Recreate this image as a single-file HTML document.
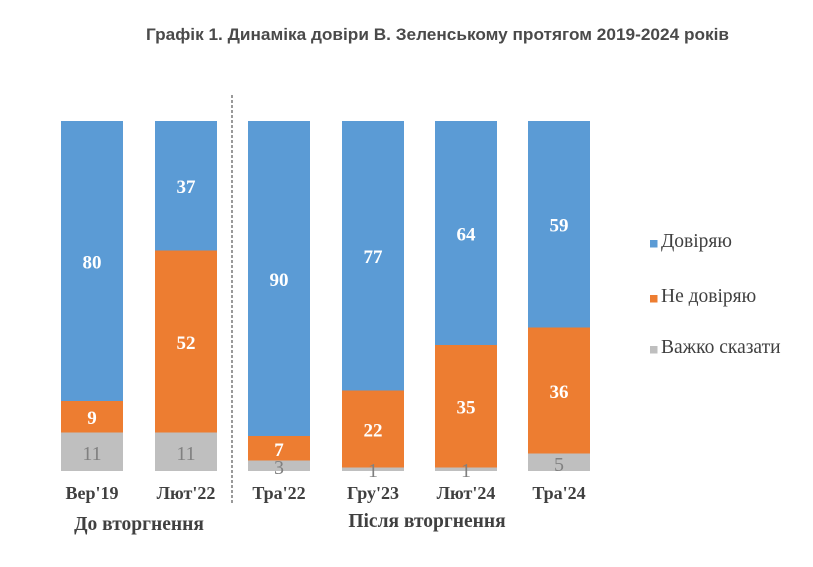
<!DOCTYPE html>
<html>
<head>
<meta charset="utf-8">
<style>
html,body{margin:0;padding:0;background:#fff;}
svg{display:block;}
.t{font-family:"Liberation Sans",Arial,sans-serif;font-weight:bold;font-size:17px;fill:#4a4a4a;}
.v{font-family:"Liberation Serif","Times New Roman",serif;font-weight:bold;font-size:19px;fill:#fff;text-anchor:middle;}
.g{font-family:"Liberation Serif","Times New Roman",serif;font-size:20px;fill:#808080;text-anchor:middle;}
.c{font-family:"Liberation Serif","Times New Roman",serif;font-weight:bold;font-size:18px;fill:#404040;text-anchor:middle;}
.gr{font-family:"Liberation Serif","Times New Roman",serif;font-weight:bold;font-size:19.5px;fill:#404040;text-anchor:middle;}
.l{font-family:"Liberation Serif","Times New Roman",serif;font-size:19.5px;fill:#404040;}
</style>
</head>
<body>
<svg width="813" height="567" viewBox="0 0 813 567" xmlns="http://www.w3.org/2000/svg">
<rect width="813" height="567" fill="#fff"/>
<text class="t" x="146" y="40" textLength="583" lengthAdjust="spacingAndGlyphs">Графік 1. Динаміка довіри В. Зеленському протягом 2019-2024 років</text>

<!-- Bar 1 Вер'19 -->
<rect x="61" y="121" width="62" height="280" fill="#5B9BD5"/>
<rect x="61" y="401" width="62" height="31.5" fill="#ED7D31"/>
<rect x="61" y="432.5" width="62" height="38.5" fill="#BFBFBF"/>
<!-- Bar 2 Лют'22 -->
<rect x="155" y="121" width="62" height="129.5" fill="#5B9BD5"/>
<rect x="155" y="250.5" width="62" height="182" fill="#ED7D31"/>
<rect x="155" y="432.5" width="62" height="38.5" fill="#BFBFBF"/>
<!-- Bar 3 Тра'22 -->
<rect x="248" y="121" width="62" height="315" fill="#5B9BD5"/>
<rect x="248" y="436" width="62" height="24.5" fill="#ED7D31"/>
<rect x="248" y="460.5" width="62" height="10.5" fill="#BFBFBF"/>
<!-- Bar 4 Гру'23 -->
<rect x="342" y="121" width="62" height="269.5" fill="#5B9BD5"/>
<rect x="342" y="390.5" width="62" height="77" fill="#ED7D31"/>
<rect x="342" y="467.5" width="62" height="3.5" fill="#BFBFBF"/>
<!-- Bar 5 Лют'24 -->
<rect x="435" y="121" width="62" height="224" fill="#5B9BD5"/>
<rect x="435" y="345" width="62" height="122.5" fill="#ED7D31"/>
<rect x="435" y="467.5" width="62" height="3.5" fill="#BFBFBF"/>
<!-- Bar 6 Тра'24 -->
<rect x="528" y="121" width="62" height="206.5" fill="#5B9BD5"/>
<rect x="528" y="327.5" width="62" height="126" fill="#ED7D31"/>
<rect x="528" y="453.5" width="62" height="17.5" fill="#BFBFBF"/>

<!-- value labels -->
<text class="v" x="92" y="268.5">80</text>
<text class="v" x="92" y="424">9</text>
<text class="g" x="92" y="460">11</text>

<text class="v" x="186" y="193">37</text>
<text class="v" x="186" y="349">52</text>
<text class="g" x="186" y="460">11</text>

<text class="v" x="279" y="286">90</text>
<text class="v" x="279" y="456">7</text>
<text class="g" x="279" y="474">3</text>

<text class="v" x="373" y="263">77</text>
<text class="v" x="373" y="436.5">22</text>
<text class="g" x="373" y="477">1</text>

<text class="v" x="466" y="240.5">64</text>
<text class="v" x="466" y="413.5">35</text>
<text class="g" x="466" y="477">1</text>

<text class="v" x="559" y="231.5">59</text>
<text class="v" x="559" y="398">36</text>
<text class="g" x="559" y="471">5</text>

<!-- dashed separator -->
<line x1="232" y1="95" x2="232" y2="504" stroke="#808080" stroke-width="1.6" stroke-dasharray="3,2"/>

<!-- category labels -->
<text class="c" x="92" y="499">Вер'19</text>
<text class="c" x="186" y="499">Лют'22</text>
<text class="c" x="279" y="499">Тра'22</text>
<text class="c" x="373" y="499">Гру'23</text>
<text class="c" x="466" y="499">Лют'24</text>
<text class="c" x="559" y="499">Тра'24</text>

<text class="gr" x="139" y="530">До вторгнення</text>
<text class="gr" x="427" y="527">Після вторгнення</text>

<!-- legend -->
<rect x="650" y="240" width="7.5" height="7.5" fill="#5B9BD5"/>
<text class="l" x="661" y="247">Довіряю</text>
<rect x="650" y="295" width="7.5" height="7.5" fill="#ED7D31"/>
<text class="l" x="661" y="302">Не довіряю</text>
<rect x="650" y="346" width="7.5" height="7.5" fill="#BFBFBF"/>
<text class="l" x="661" y="353">Важко сказати</text>
</svg>
</body>
</html>
